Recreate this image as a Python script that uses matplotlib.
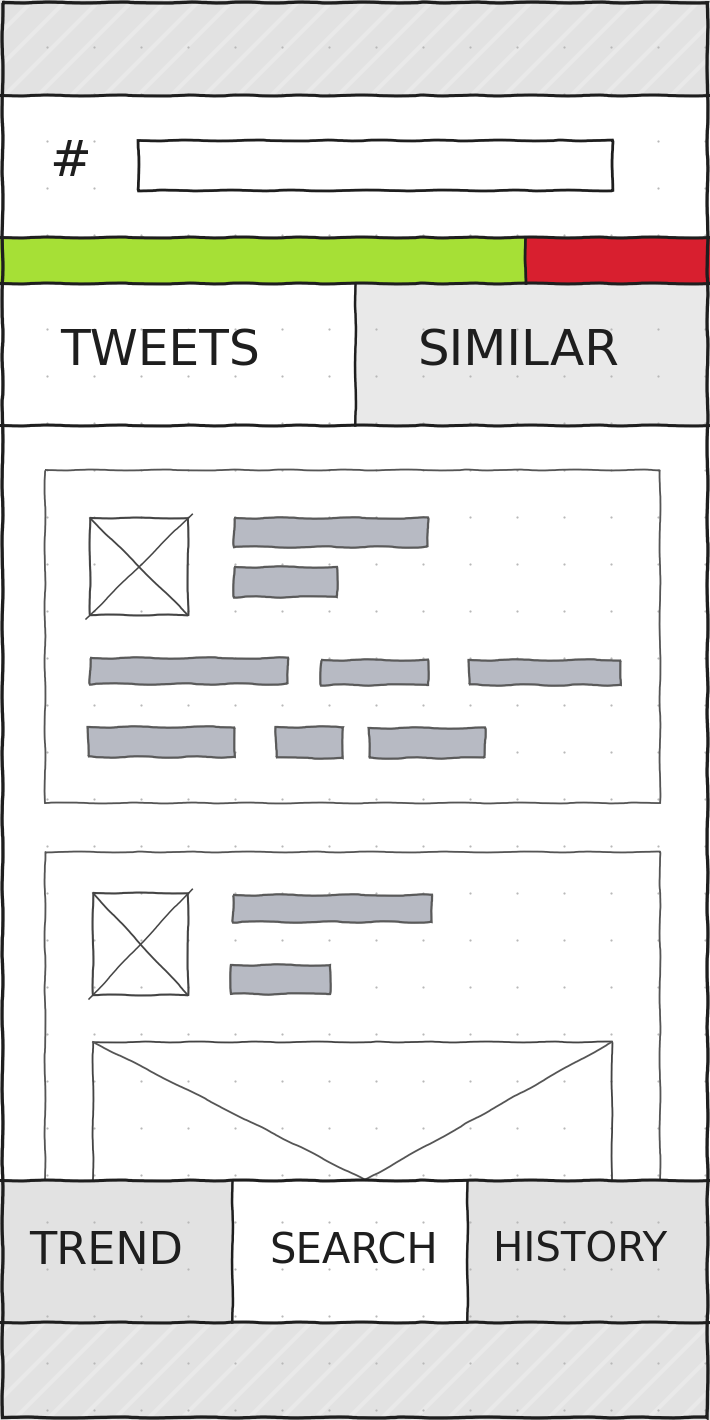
"""Hand-sketched mobile wireframe: hashtag search with tweet cards."""

import matplotlib
matplotlib.use("Agg")
import matplotlib.pyplot as plt
from matplotlib.patches import Rectangle
import numpy as np

W, H = 710, 1420

# layout of the screen, in sketch pixels (y grows downwards)
band_rows = [(0, 95, "#e2e2e2"), (95, 237, "#ffffff"), (425, 1180, "#ffffff"), (1322, 1420, "#e2e2e2")]
divider_rows = [95, 237, 283, 425, 1180, 1322]

progress_split = 525
progress_rows = (237, 283)

tab_labels = ["TWEETS", "SIMILAR"]
tab_edges = [0, 355, 708]
tab_fills = ["#ffffff", "#e9e9e9"]
tab_text_x = [160, 519]
tab_sizes = [35, 36]

nav_labels = ["TREND", "SEARCH", "HISTORY"]
nav_edges = [0, 232, 467, 708]
nav_fills = ["#e2e2e2", "#ffffff", "#e2e2e2"]
nav_text_x = [106, 354, 580]
nav_sizes = [32, 30, 29]

search_box = (138, 140, 612, 190)
card_boxes = [(45, 470, 660, 803), (45, 852, 660, 1180)]
avatar_boxes = [(90, 518, 188, 615), (93, 893, 188, 995)]
text_bars = [
    (234, 518, 428, 547), (234, 567, 337, 597),
    (90, 658, 288, 684), (321, 660, 428, 685), (469, 660, 621, 685),
    (88, 727, 235, 757), (276, 727, 343, 758), (369, 728, 485, 758),
    (233, 895, 432, 922), (231, 965, 330, 994),
]
media_box = (93, 1042, 612, 1180)
media_tip_x = 365

INK = "#1e1e1e"
PENCIL = "#555555"
SKETCH = dict(scale=0.45, length=160, randomness=12)


def sketchy(artist, scale=SKETCH["scale"]):
    artist.set_sketch_params(scale, SKETCH["length"], SKETCH["randomness"])
    return artist


def rect(ax, x0, y0, x1, y1, **kw):
    r = Rectangle((x0, y0), x1 - x0, y1 - y0, **kw)
    ax.add_patch(r)
    return r


fig = plt.figure(figsize=(W / 100, H / 100), dpi=100)
ax = fig.add_axes([0, 0, 1, 1])
ax.set_xlim(0, W)
ax.set_ylim(H, 0)
ax.axis("off")
fig.patch.set_facecolor("white")

# backgrounds
for y0, y1, c in band_rows:
    rect(ax, 0, y0, W, y1, facecolor=c, edgecolor="none", zorder=0)
for i, c in enumerate(tab_fills):
    rect(ax, tab_edges[i], 283, tab_edges[i + 1], 425, facecolor=c, edgecolor="none", zorder=0)
for i, c in enumerate(nav_fills):
    rect(ax, nav_edges[i], 1180, nav_edges[i + 1], 1322, facecolor=c, edgecolor="none", zorder=0)

# faint streaks on the grey paper bands
plt.rcParams["hatch.linewidth"] = 3.0
for y0, y1 in [(0, 95), (1322, 1420)]:
    rect(ax, 0, y0, W, y1, facecolor="none", edgecolor="#e9e9e9", hatch="/", linewidth=0, zorder=0.5)

# dot grid of the notebook paper
gx, gy = np.meshgrid(np.arange(47, W, 47), np.arange(47, H, 47))
ax.scatter(gx.ravel(), gy.ravel(), s=2.5, color="#b8b8b8", linewidths=0, zorder=1)

# progress bar
rect(ax, 0, progress_rows[0], progress_split, progress_rows[1], facecolor="#a6e036", edgecolor="none", zorder=2)
rect(ax, progress_split, progress_rows[0], W, progress_rows[1], facecolor="#d81f2f", edgecolor="none", zorder=2)
sketchy(ax.plot([progress_split, progress_split], progress_rows, color=INK, lw=2.0, zorder=5)[0])

# horizontal dividers
for y in divider_rows:
    sketchy(ax.plot([0, W], [y, y], color=INK, lw=2.2, zorder=5)[0])

# vertical tab dividers
sketchy(ax.plot([tab_edges[1]] * 2, [283, 425], color=INK, lw=1.8, zorder=5)[0])
for x in nav_edges[1:-1]:
    sketchy(ax.plot([x, x], [1180, 1322], color=INK, lw=1.8, zorder=5)[0])

# search field
ax.text(70, 162, "#", fontsize=36, color=INK, ha="center", va="center", family="DejaVu Sans", zorder=6)
sketchy(rect(ax, *search_box, facecolor="white", edgecolor=INK, lw=2.0, zorder=4))

# tweet cards
for x0, y0, x1, y1 in card_boxes:
    if y1 >= 1180:
        sketchy(ax.plot([x0, x0, x1, x1], [y1, y0, y0, y1], color=PENCIL, lw=1.3, zorder=3)[0])
    else:
        sketchy(rect(ax, x0, y0, x1, y1, facecolor="none", edgecolor=PENCIL, lw=1.3, zorder=3))

for x0, y0, x1, y1 in avatar_boxes:
    sketchy(rect(ax, x0, y0, x1, y1, facecolor="none", edgecolor="#444444", lw=1.5, zorder=3))
    sketchy(ax.plot([x0, x1], [y0, y1], color="#444444", lw=1.3, zorder=3)[0])
    sketchy(ax.plot([x0 - 4, x1 + 4], [y1 + 4, y0 - 4], color="#444444", lw=1.1, zorder=3)[0])

for x0, y0, x1, y1 in text_bars:
    sketchy(rect(ax, x0, y0, x1, y1, facecolor="#b7bac3", edgecolor="#5a5a5a", lw=1.6, zorder=3), 0.7)

mx0, my0, mx1, my1 = media_box
sketchy(ax.plot([mx0, mx0, mx1, mx1], [my1, my0, my0, my1], color="#444444", lw=1.3, zorder=3)[0])
sketchy(ax.plot([mx0, media_tip_x, mx1], [my0, my1, my0], color="#555555", lw=1.3, zorder=3)[0])

# labels
for lab, x, fs in zip(tab_labels, tab_text_x, tab_sizes):
    ax.text(x, 351, lab, fontsize=fs, color=INK, ha="center", va="center", family="DejaVu Sans", zorder=6)
for lab, x, fs in zip(nav_labels, nav_text_x, nav_sizes):
    ax.text(x, 1251, lab, fontsize=fs, color=INK, ha="center", va="center", family="DejaVu Sans", zorder=6)

# outer frame of the phone screen
sketchy(rect(ax, 1.5, 1.5, W - 3, H - 3, facecolor="none", edgecolor=INK, lw=2.4, zorder=7))

fig.savefig("out.png", dpi=100)
plt.close(fig)
